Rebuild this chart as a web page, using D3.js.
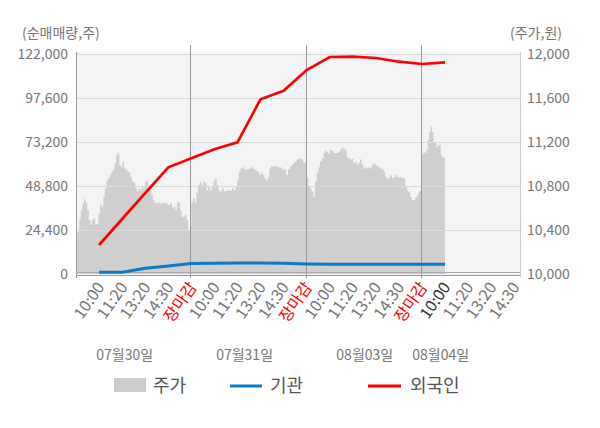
<!DOCTYPE html>
<html>
<head>
<meta charset="utf-8">
<script src="https://cdn.jsdelivr.net/npm/d3@7"></script>
<style>
body{margin:0;background:#fff;}
text{font-family:"Noto Sans CJK KR","Noto Sans",sans-serif;}
</style>
</head>
<body>
<div id="graph"></div>
<script>
// ---- data ----
var dates=["07월30일","07월31일","08월03일","08월04일"];
var tickLabels=["10:00","11:20","13:20","14:30","장마감",
	"10:00","11:20","13:20","14:30","장마감",
	"10:00","11:20","13:20","14:30","장마감",
	"10:00","11:20","13:20","14:30"];
var leftTicks=[0,24400,48800,73200,97600,122000];
var rightTicks=[10000,10400,10800,11200,11600,12000];

// 주가 (per day, evenly sampled through the session)
var day1Price=[10375,10380,10500,10580,10640,10680,10650,10580,10490,10450,10490,10510,10450,10460,10550,10630,10610,10700,10780,10850,10870,10900,10930,10950,11010,11080,11100,10990,10970,11020,10960,10950,10930,10920,10880,10840,10830,10780,10750,10780,10760,10790,10780,10840,10850,10810,10760,10720,10670,10650,10640,10650,10640,10640,10650,10640,10650,10630,10630,10650,10600,10610,10580,10650,10650,10580,10520,10520,10540,10490,10400,10430,10400];
var day2Price=[10650,10690,10650,10740,10810,10840,10810,10840,10830,10760,10790,10760,10790,10850,10870,10810,10760,10750,10780,10750,10760,10760,10760,10760,10780,10760,10790,10850,10930,10960,10970,10950,10950,10950,10960,10970,10960,10950,10940,10930,10900,10920,10900,10870,10850,10880,10960,10980,10980,10980,10980,10970,10970,10960,10950,10950,10900,10950,10970,10990,11010,11020,11040,11050,11050,11040,11010,11020,11040];
var day3Price=[10880,10790,10780,10750,10700,10840,10920,10970,11020,11050,11100,11120,11110,11090,11130,11120,11100,11100,11100,11110,11130,11150,11140,11130,11060,11050,11040,11050,11010,11020,10990,11010,11040,10990,10960,10970,10960,10970,10960,10990,11010,10990,10980,10970,10960,10950,10930,10880,10860,10880,10900,10870,10880,10900,10880,10880,10880,10870,10870,10790,10760,10740,10700,10670,10670,10700,10720,10750,10760,10780];
var day4Price=[11090,11110,11100,11130,11220,11290,11340,11290,11200,11190,11150,11170,11170,11080,11060,11060,11050];

// 누적 순매매량 at each release (10:00,11:20,13:20,14:30,장마감 ...)
var foreign=[16080,30500,44900,59170,64160,69150,73030,96870,101640,113120,120330,120490,119770,117720,116450,117390];
var inst=[940,940,3160,4440,5820,5990,6100,6100,5930,5545,5380,5380,5380,5380,5380,5380];

// ---- layout ----
var width=600,height=428;
var pLeft=76,pRight=520,pTop=54,pBottom=274;
var dateSlots=[2.11,7.31,12.52,15.81];

var svg=d3.select('#graph').append('svg').attr('width',width).attr('height',height);

var x=d3.scaleLinear().domain([0,19.25]).range([pLeft,pRight]);
var yL=d3.scaleLinear().domain([0,122000]).range([pBottom,pTop]);
var yR=d3.scaleLinear().domain([10000,12000]).range([pBottom,pTop]);

svg.append('defs').append('clipPath').attr('id','plot')
	.append('rect').attr('x',pLeft).attr('y',pTop-2).attr('width',pRight-pLeft).attr('height',pBottom-pTop+2);

svg.append('rect').attr('x',pLeft).attr('y',pTop-2).attr('width',pRight-pLeft).attr('height',pBottom-pTop+3)
	.attr('fill','#f4f4f4');

// price points on slot axis
var pricePts=[];
[day1Price,day2Price,day3Price].forEach(function(arr,d){
	arr.forEach(function(v,i){pricePts.push({s:5*d+5*i/(arr.length-1),v:v});});
});
day4Price.forEach(function(v,i){pricePts.push({s:15+i/(day4Price.length-1),v:v});});

var area=d3.area().curve(d3.curveStepAfter)
	.x(function(d){return x(d.s);})
	.y0(pBottom).y1(function(d){return yR(d.v);});
svg.append('path').datum(pricePts).attr('d',area).attr('fill','#cfcfcf').attr('clip-path','url(#plot)');

// grid
svg.selectAll('.grid').data(leftTicks.slice(1)).enter().append('line')
	.attr('x1',pLeft).attr('x2',pRight)
	.attr('y1',function(d){return yL(d)+0.5;}).attr('y2',function(d){return yL(d)+0.5;})
	.attr('stroke','#dadada');
svg.append('line').attr('x1',pLeft).attr('x2',pRight).attr('y1',pBottom-1.5).attr('y2',pBottom-1.5).attr('stroke','#aaa');
svg.append('line').attr('x1',pLeft).attr('x2',pRight).attr('y1',pBottom+1.5).attr('y2',pBottom+1.5).attr('stroke','#999');

// axis / day separators
svg.append('line').attr('x1',pLeft+0.5).attr('x2',pLeft+0.5).attr('y1',pTop-2).attr('y2',pBottom+4).attr('stroke','#999');
svg.append('line').attr('x1',pRight+0.5).attr('x2',pRight+0.5).attr('y1',pTop-2).attr('y2',pBottom+3).attr('stroke','#ccc');
svg.selectAll('.sep').data([5,10,15]).enter().append('line')
	.attr('x1',function(d){return Math.round(x(d))-0.5;}).attr('x2',function(d){return Math.round(x(d))-0.5;})
	.attr('y1',pTop-9).attr('y2',pBottom+4).attr('stroke','#999');

// lines
var line=function(sc){return d3.line().x(function(d,i){return x(i+1);}).y(function(d){return sc(d);});};
svg.append('path').datum(inst).attr('d',line(yL)).attr('fill','none').attr('stroke','#0a7bc8').attr('stroke-width',3);
svg.append('path').datum(foreign).attr('d',line(yL)).attr('fill','none').attr('stroke','#ff0000').attr('stroke-width',2.7);

// axis labels
svg.selectAll('.ly').data(leftTicks).enter().append('text')
	.attr('x',68).attr('y',function(d){return yL(d);}).attr('dy','0.35em')
	.attr('text-anchor','end').attr('fill','#777').style('font-size','14px')
	.text(function(d){return d3.format(',')(d);});
svg.selectAll('.ry').data(rightTicks).enter().append('text')
	.attr('x',527).attr('y',function(d){return yR(d);}).attr('dy','0.35em')
	.attr('fill','#777').style('font-size','14px')
	.text(function(d){return d3.format(',')(d);});
svg.append('text').attr('x',22).attr('y',33).attr('dy','0.35em').attr('fill','#777').style('font-size','14px').text('(순매매량,주)');
svg.append('text').attr('x',562).attr('y',33).attr('dy','0.35em').attr('text-anchor','end').attr('fill','#777').style('font-size','14px').text('(주가,원)');

svg.selectAll('.xl').data(tickLabels).enter().append('text')
	.attr('transform',function(d,i){return 'translate('+(x(i+1)+1.5)+',284) rotate(-55)';})
	.attr('dy','0.35em').attr('text-anchor','end').style('font-size','16px')
	.attr('fill',function(d,i){return d=='장마감'?'#ff0000':(i==15?'#333':'#777');})
	.text(function(d){return d;});

svg.selectAll('.dl').data(dates).enter().append('text')
	.attr('x',function(d,i){return x(dateSlots[i]);}).attr('y',355).attr('dy','0.35em')
	.attr('text-anchor','middle').attr('fill','#777').style('font-size','14px')
	.text(function(d){return d;});

// legend
var lg=svg.append('g');
lg.append('rect').attr('x',114).attr('y',378).attr('width',32).attr('height',14).attr('fill','#cccccc');
lg.append('text').attr('x',153).attr('y',386).attr('dy','0.35em').attr('fill','#555').style('font-size','18px').text('주가');
lg.append('line').attr('x1',230).attr('x2',262).attr('y1',386).attr('y2',386).attr('stroke','#0a7bc8').attr('stroke-width',3);
lg.append('text').attr('x',270).attr('y',386).attr('dy','0.35em').attr('fill','#555').style('font-size','18px').text('기관');
lg.append('line').attr('x1',368).attr('x2',401).attr('y1',386).attr('y2',386).attr('stroke','#ff0000').attr('stroke-width',3);
lg.append('text').attr('x',410).attr('y',386).attr('dy','0.35em').attr('fill','#555').style('font-size','18px').text('외국인');
</script>
</body>
</html>
